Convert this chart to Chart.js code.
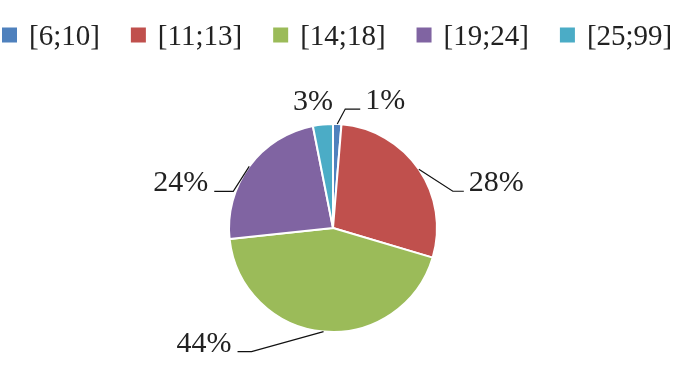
<!DOCTYPE html>
<html>
<head>
<meta charset="utf-8">
<script src="https://cdn.jsdelivr.net/npm/chart.js@4.4.1/dist/chart.umd.min.js"></script>
<style>
  html, body { margin: 0; padding: 0; background: #fff; }
  #wrap { width: 683px; height: 390px; }
</style>
</head>
<body>
<div id="wrap"><canvas id="pie"></canvas></div>
<script>
var ageGroups = ["[6;10]", "[11;13]", "[14;18]", "[19;24]", "[25;99]"];
var shares = [1.3, 28.3, 43.7, 23.6, 3.1];
var sliceColors = ["#4F81BD", "#C0504D", "#9BBB59", "#8064A2", "#4BACC6"];

// where each percent label sits relative to its slice edge (Excel moved them by hand)
var labelPlace = [
	{ dx: 8, dy: -15, run: 15, line: true },
	{ dx: 34, dy: 22, run: 11, line: true },
	{ dx: -72, dy: 20, run: -14, line: true },
	{ dx: -16, dy: 25, run: -19, line: true },
	{ dx: -10, dy: -14, run: 0, line: false }
];

var fontFamily = "'Liberation Serif', 'Times New Roman', serif";

// one-row legend, the built-in one wraps at this font size
var rowLegend = {
	id: 'rowLegend',
	afterDraw: function(chart){
		var ctx = chart.ctx;
		var colors = chart.data.datasets[0].backgroundColor;
		var x = 2, y = 37, box = 15;
		ctx.save();
		ctx.font = "29px " + fontFamily;
		ctx.textAlign = "left";
		ctx.textBaseline = "middle";
		chart.data.labels.forEach(function(lbl, i){
			ctx.fillStyle = colors[i];
			ctx.fillRect(x, y - box / 2 - 2, box, box);
			ctx.fillStyle = "#222";
			ctx.fillText(lbl, x + box + 12, y);
			x += box + 12 + ctx.measureText(lbl).width + 31;
		});
		ctx.restore();
	}
};

var pieLabels = {
	id: 'pieLabels',
	afterDatasetsDraw: function(chart){
		var ctx = chart.ctx;
		var arcs = chart.getDatasetMeta(0).data;
		var values = chart.data.datasets[0].data;
		var total = values.reduce(function(a, b){ return a + b; }, 0);
		ctx.save();
		ctx.font = "30px " + fontFamily;
		ctx.fillStyle = "#222";
		ctx.strokeStyle = "#111";
		ctx.lineWidth = 1.2;
		arcs.forEach(function(arc, i){
			var mid = (arc.startAngle + arc.endAngle) / 2;
			var ax = arc.x + Math.cos(mid) * arc.outerRadius;
			var ay = arc.y + Math.sin(mid) * arc.outerRadius;
			var p = labelPlace[i];
			var ex = ax + p.dx, ey = ay + p.dy;
			var text = Math.round(values[i] / total * 100) + "%";
			ctx.textBaseline = "alphabetic";
			if (p.line) {
				ctx.beginPath();
				ctx.moveTo(ax, ay);
				ctx.lineTo(ex, ey);
				ctx.lineTo(ex + p.run, ey);
				ctx.stroke();
				if (p.run >= 0) {
					ctx.textAlign = "left";
					ctx.fillText(text, ex + p.run + 5, ey);
				} else {
					ctx.textAlign = "right";
					ctx.fillText(text, ex + p.run - 6, ey);
				}
			} else {
				ctx.textAlign = "center";
				ctx.fillText(text, ex, ey);
			}
		});
		ctx.restore();
	}
};

new Chart(document.getElementById('pie'), {
	type: 'pie',
	data: {
		labels: ageGroups,
		datasets: [{
			data: shares,
			backgroundColor: sliceColors,
			borderColor: "#fff",
			borderWidth: 2,
			radius: 104
		}]
	},
	options: {
		responsive: true,
		maintainAspectRatio: false,
		animation: false,
		layout: { padding: { top: 66, bottom: 0, left: 0, right: 17 } },
		plugins: {
			legend: { display: false },
			tooltip: { enabled: false }
		}
	},
	plugins: [pieLabels, rowLegend]
});
</script>
</body>
</html>
